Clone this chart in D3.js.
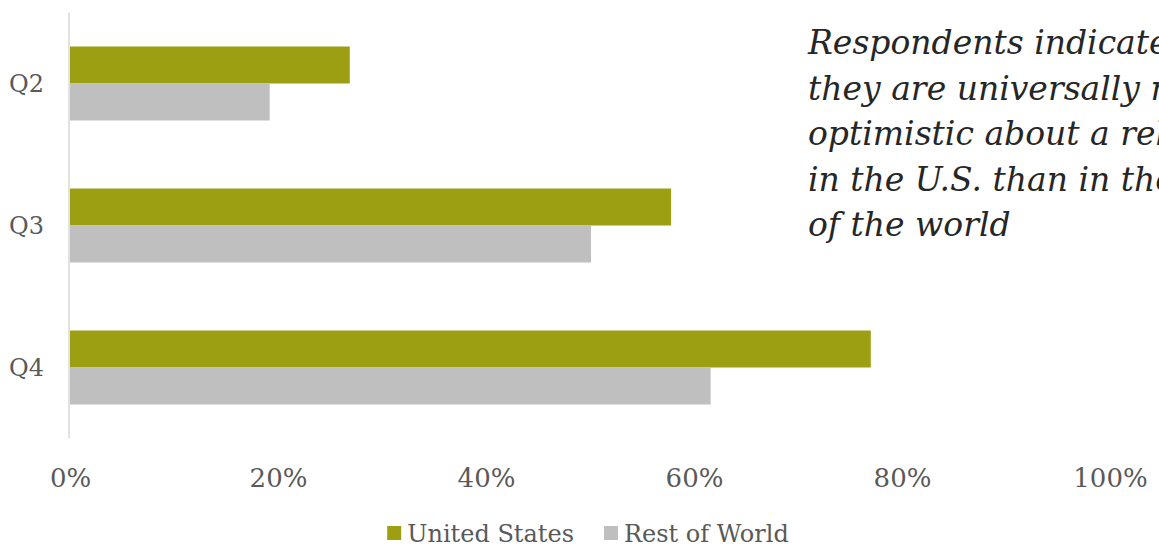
<!DOCTYPE html>
<html>
<head>
<meta charset="utf-8">
<script src="https://cdn.jsdelivr.net/npm/d3@7/dist/d3.min.js"></script>
<style>
  html, body { margin: 0; padding: 0; background: #ffffff; overflow: hidden; }
  svg { display: block; }
  .tick-label, .cat-label, .legend-label { font-family: "DejaVu Serif", serif; fill: #595959; }
  .note { font-family: "DejaVu Serif", serif; font-style: italic; fill: #262626; }
</style>
</head>
<body>
<svg id="chart" width="1159" height="548"></svg>
<script>
// Quarters shown on the vertical axis
const quarters = ["Q2", "Q3", "Q4"];
// Share of respondents expecting a rebound, by region
const unitedStates = [0.269, 0.578, 0.770];
const restOfWorld = [0.192, 0.501, 0.616];
// Series names and colours
const seriesNames = ["United States", "Rest of World"];
const seriesColors = ["#9c9f12", "#bfbfbf"];
// Value axis ticks
const tickValues = [0, 0.2, 0.4, 0.6, 0.8, 1.0];
// Side note, one entry per line (it runs past the right edge of the canvas)
const noteLines = [
  "Respondents indicated that",
  "they are universally more",
  "optimistic about a rebound",
  "in the U.S. than in the rest",
  "of the world"
];

const svg = d3.select("#chart");
const W = 1159, H = 548;
const plot = { left: 70, right: 1110, top: 12.5, bottom: 438.5 };

const x = d3.scaleLinear().domain([0, 1]).range([plot.left, plot.right]);
const y = d3.scaleBand().domain(quarters).range([plot.top, plot.bottom])
  .paddingInner(0.479).paddingOuter(0.2395);
const ySeries = d3.scaleBand().domain(seriesNames).range([0, y.bandwidth()]);

const rows = quarters.map((q, i) => ({ q, values: [unitedStates[i], restOfWorld[i]] }));

// Bars
const groups = svg.append("g").selectAll("g").data(rows).join("g")
  .attr("transform", d => `translate(0,${y(d.q)})`);
groups.selectAll("rect")
  .data(d => d.values.map((v, j) => ({ v, name: seriesNames[j], color: seriesColors[j] })))
  .join("rect")
  .attr("x", x(0))
  .attr("y", d => ySeries(d.name))
  .attr("width", d => x(d.v) - x(0))
  .attr("height", ySeries.bandwidth())
  .attr("fill", d => d.color);

// Category axis line
svg.append("line")
  .attr("x1", x(0) - 1).attr("x2", x(0) - 1)
  .attr("y1", plot.top).attr("y2", plot.bottom)
  .attr("stroke", "#d9d9d9").attr("stroke-width", 1.5);

// Category labels
const yAxis = d3.axisLeft(y).tickSize(0).tickPadding(0);
const yg = svg.append("g").attr("transform", `translate(44,0)`).call(yAxis);
yg.select(".domain").remove();
yg.selectAll("text").attr("class", "cat-label").attr("font-size", 24).attr("fill", null)
  .attr("dy", "0.36em");

// Value axis labels
const xAxis = d3.axisBottom(x).tickValues(tickValues).tickFormat(d3.format(".0%")).tickSize(0).tickPadding(0);
const xg = svg.append("g").attr("transform", `translate(0,${plot.bottom + 48})`).call(xAxis);
xg.select(".domain").remove();
xg.selectAll("text").attr("class", "tick-label").attr("font-size", 26).attr("fill", null)
  .attr("dy", 0);

// Legend, centred under the plot
const legend = svg.append("g").attr("transform", `translate(0,${H - 6})`);
const items = legend.selectAll("g").data(seriesNames).join("g");
items.append("rect").attr("width", 14).attr("height", 14).attr("y", -16)
  .attr("fill", (d, i) => seriesColors[i]);
items.append("text").attr("class", "legend-label").attr("x", 20).attr("font-size", 24)
  .text(d => d);
const widths = [];
items.each(function () { widths.push(this.getBBox().width); });
const gap = 30;
const total = d3.sum(widths) + gap * (widths.length - 1);
let cursor = (plot.left + plot.right) / 2 - total / 2 - 2;
items.attr("transform", (d, i) => {
  const t = `translate(${cursor},0)`;
  cursor += widths[i] + gap;
  return t;
});

// Side note
const note = svg.append("text").attr("class", "note").attr("font-size", 33)
  .attr("x", 808).attr("y", 54);
note.selectAll("tspan").data(noteLines).join("tspan")
  .attr("x", 808).attr("dy", (d, i) => i === 0 ? 0 : 45.5)
  .text(d => d);
</script>
</body>
</html>
